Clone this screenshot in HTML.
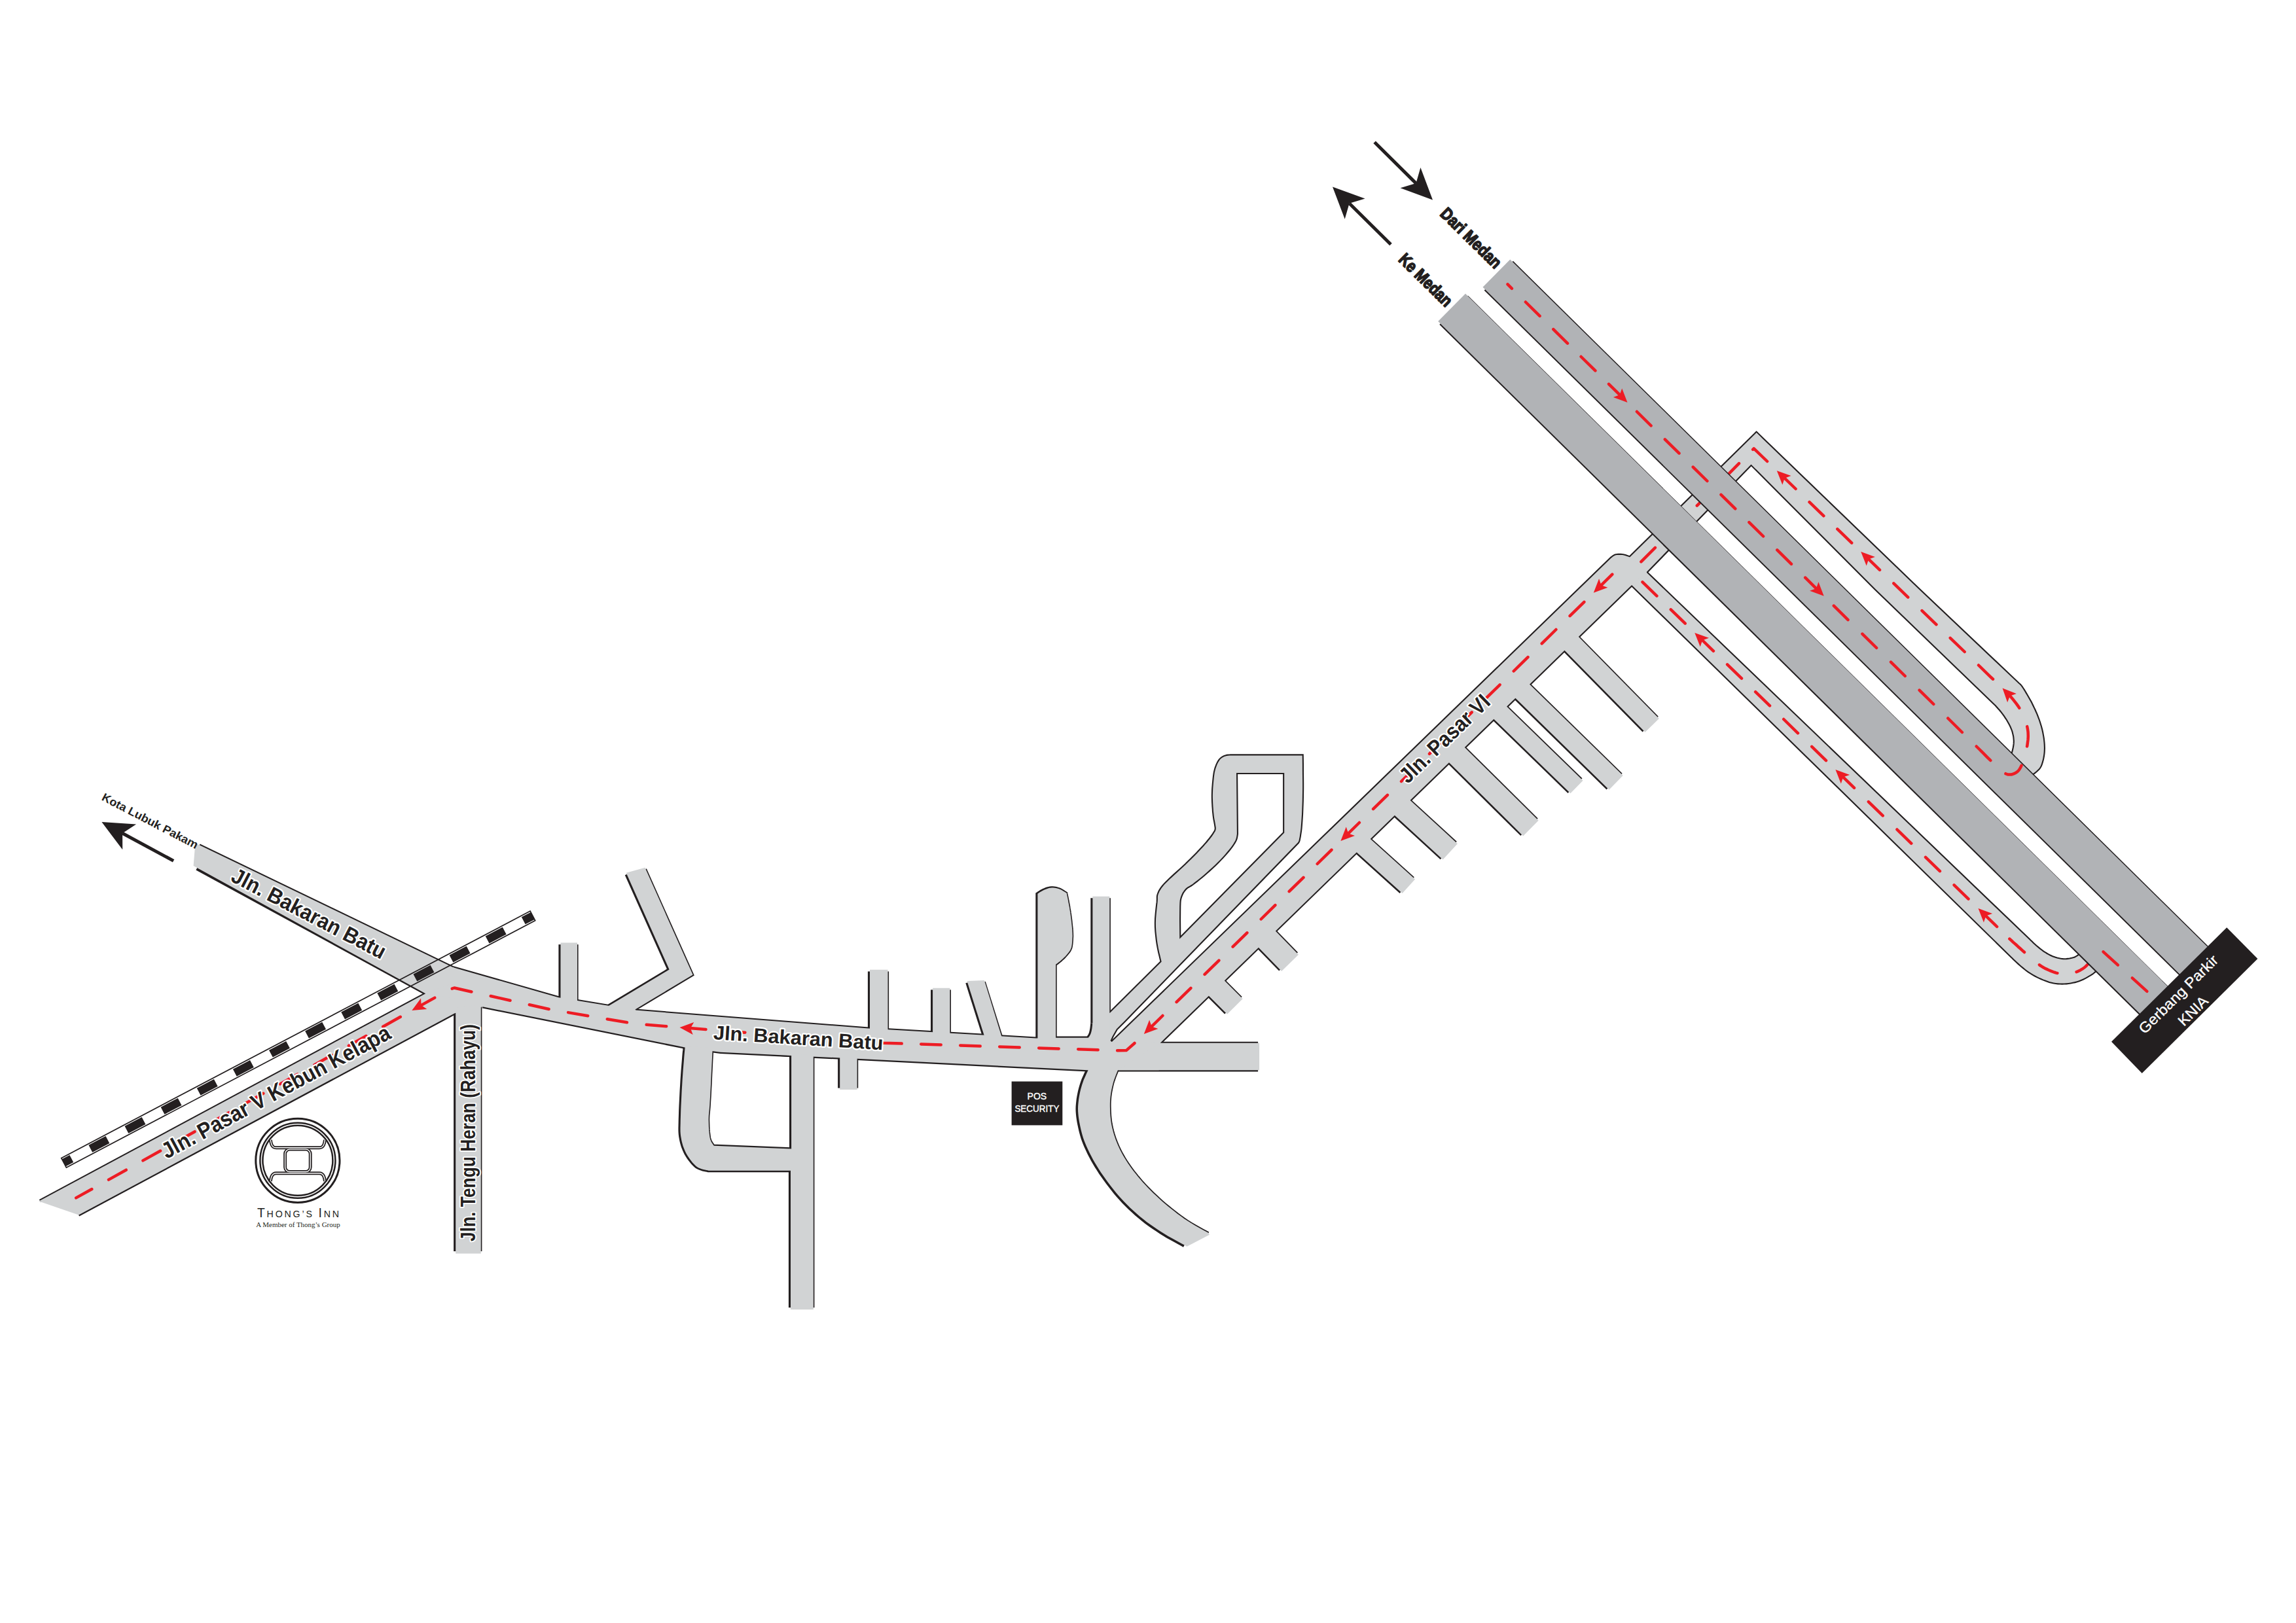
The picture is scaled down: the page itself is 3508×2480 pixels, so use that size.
<!DOCTYPE html>
<html><head><meta charset="utf-8"><title>Map</title>
<style>
html,body{margin:0;padding:0;background:#fff;}
body{width:3508px;height:2480px;overflow:hidden;font-family:"Liberation Sans",sans-serif;}
svg{display:block;}
text{font-family:"Liberation Sans",sans-serif;}
.serif{font-family:"Liberation Serif",serif;}
</style></head><body>
<svg xmlns="http://www.w3.org/2000/svg" width="3508" height="2480" viewBox="0 0 3508 2480">
<rect width="3508" height="2480" fill="#fff"/>
<g fill="none" stroke="#231f20" stroke-linecap="butt" stroke-miterlimit="10">
<path d="M2682.3,660.0 L2931.3,900.0 L3083.5,1044.1 L3083.9,1044.6 L3084.6,1045.1 L3085.4,1045.7 L3086.2,1046.6 L3087.2,1047.6 L3088.3,1048.9 L3089.4,1050.6 L3090.7,1052.6 L3092.1,1054.7 L3093.5,1057.1 L3094.9,1059.4 L3096.3,1061.8 L3097.6,1064.0 L3098.9,1066.3 L3100.3,1068.7 L3101.6,1071.1 L3103.0,1073.6 L3104.3,1076.2 L3105.6,1078.9 L3107.0,1081.8 L3108.4,1084.7 L3109.7,1087.7 L3111.1,1090.7 L3112.3,1093.8 L3113.5,1096.9 L3114.7,1100.1 L3115.8,1103.3 L3116.8,1106.6 L3117.8,1109.8 L3118.7,1113.0 L3119.5,1116.3 L3120.2,1119.5 L3120.8,1122.8 L3121.4,1126.1 L3121.9,1129.2 L3122.2,1132.2 L3122.5,1135.1 L3122.7,1137.9 L3122.8,1140.6 L3122.9,1143.2 L3122.8,1145.7 L3122.7,1148.3 L3122.5,1150.8 L3122.2,1153.3 L3121.8,1155.8 L3121.4,1158.2 L3120.9,1160.5 L3120.3,1162.7 L3119.7,1164.8 L3119.1,1166.7 L3118.5,1168.6 L3117.7,1170.4 L3116.7,1172.2 L3115.5,1173.9 L3114.0,1175.6 L3112.2,1177.3 L3110.3,1179.0 L3108.3,1180.6 L3106.2,1182.1 L3104.3,1183.5 L3102.3,1184.8 L3100.1,1186.1 L3098.0,1187.3 L3096.0,1188.4 L3094.3,1189.3 L3093.1,1189.9" stroke-width="4.2"/>
<path d="M2675.6,709.6 L2865.5,900.0 L3049.8,1077.8 L3050.9,1079.0 L3052.3,1080.6 L3054.0,1082.5 L3055.9,1084.6 L3057.7,1086.8 L3059.4,1089.0 L3061.1,1091.2 L3062.8,1093.6 L3064.4,1096.0 L3066.1,1098.5 L3067.6,1101.0 L3069.0,1103.4 L3070.3,1105.8 L3071.6,1108.2 L3072.7,1110.6 L3073.7,1113.0 L3074.7,1115.4 L3075.5,1117.8 L3076.1,1120.2 L3076.7,1122.7 L3077.2,1125.1 L3077.5,1127.6 L3077.7,1129.9 L3077.9,1132.2 L3077.8,1134.5 L3077.7,1136.7 L3077.4,1138.9 L3077.1,1141.0 L3076.7,1143.1 L3076.3,1145.1 L3075.8,1147.0 L3075.3,1148.8 L3074.8,1150.5 L3074.2,1152.2 L3073.6,1153.9 L3073.0,1155.5 L3072.4,1157.1 L3071.6,1158.9 L3070.8,1160.5 L3070.1,1162.1 L3069.5,1163.3 L3069.0,1164.3" stroke-width="4.2"/>
<path d="M2684.9,660.0 L2490.1,851.5" stroke-width="4.2"/>
<path d="M2675.6,709.6 L2515.4,874.5" stroke-width="4.2"/>
<path d="M2515.4,874.5 L3101.0,1436.6 L3102.2,1437.7 L3103.9,1439.3 L3105.8,1441.2 L3108.0,1443.2 L3110.2,1445.2 L3112.2,1447.0 L3114.3,1448.7 L3116.4,1450.4 L3118.6,1452.1 L3120.7,1453.7 L3122.9,1455.2 L3125.1,1456.6 L3127.2,1457.9 L3129.3,1459.1 L3131.4,1460.2 L3133.5,1461.2 L3135.7,1462.2 L3137.9,1463.0 L3140.2,1463.8 L3142.6,1464.5 L3145.0,1465.1 L3147.4,1465.6 L3149.9,1466.0 L3152.3,1466.2 L3154.8,1466.3 L3157.3,1466.2 L3159.8,1465.9 L3162.3,1465.6 L3164.6,1465.1 L3166.7,1464.6 L3168.6,1464.0 L3170.3,1463.4 L3171.8,1462.6 L3173.3,1461.8 L3174.8,1460.8 L3176.3,1459.8 L3178.0,1458.6 L3179.9,1457.1 L3181.7,1455.5 L3183.4,1454.0 L3184.9,1452.7 L3185.9,1451.8" stroke-width="4.2"/>
<path d="M2492.1,892.9 L3073.8,1462.2 L3075.2,1463.5 L3077.1,1465.4 L3079.3,1467.5 L3081.7,1469.8 L3084.2,1472.1 L3086.6,1474.2 L3088.9,1476.2 L3091.2,1478.1 L3093.5,1480.0 L3095.9,1481.9 L3098.4,1483.7 L3101.0,1485.5 L3103.8,1487.2 L3106.6,1488.9 L3109.5,1490.6 L3112.5,1492.2 L3115.6,1493.7 L3118.7,1495.1 L3121.8,1496.4 L3124.9,1497.6 L3128.2,1498.8 L3131.4,1499.9 L3134.7,1500.8 L3137.9,1501.5 L3141.1,1502.0 L3144.3,1502.3 L3147.5,1502.5 L3150.7,1502.6 L3153.9,1502.5 L3157.1,1502.3 L3160.3,1501.9 L3163.6,1501.4 L3166.9,1500.8 L3170.2,1500.1 L3173.3,1499.2 L3176.3,1498.3 L3179.3,1497.1 L3182.2,1495.8 L3185.0,1494.4 L3187.7,1492.9 L3190.2,1491.5 L3192.3,1490.3 L3194.1,1489.2 L3195.6,1488.3 L3196.8,1487.5 L3197.9,1486.7 L3199.0,1485.7 L3200.4,1484.6 L3202.0,1483.3 L3203.8,1481.6 L3205.7,1479.9 L3207.4,1478.2 L3208.9,1476.8 L3210.0,1475.8" stroke-width="4.2"/>
<path d="M2490.1,851.5 L2489.0,851.1 L2487.6,850.6 L2485.8,849.9 L2483.9,849.3 L2482.0,848.7 L2480.1,848.3 L2478.3,848.1 L2476.3,847.9 L2474.3,847.9 L2472.3,847.9 L2470.5,848.1 L2468.9,848.3 L2467.4,848.8 L2466.0,849.5 L2464.8,850.3 L2463.7,851.1 L2462.8,851.9 L2462.1,852.3 L1698.6,1592.3" stroke-width="4.2"/>
<path d="M1772.7,1593.7 L2493.1,894.1" stroke-width="4.2"/>
<path d="M2391.2,973.3 L2522.0,1106.3" stroke-width="34.0" stroke-linejoin="miter" transform="translate(-0.30,0.30)"/>
<path d="M2316.3,1046.5 L2466.9,1193.8" stroke-width="34.5" stroke-linejoin="miter" transform="translate(-0.30,0.30)"/>
<path d="M2282.2,1079.4 L2406.8,1200.4" stroke-width="31.6" stroke-linejoin="miter" transform="translate(-0.30,0.30)"/>
<path d="M2216.2,1144.0 L2336.8,1263.5" stroke-width="37.5" stroke-linejoin="miter" transform="translate(-0.30,0.30)"/>
<path d="M2132.4,1224.9 L2213.5,1299.2" stroke-width="37.2" stroke-linejoin="miter" transform="translate(-0.30,0.30)"/>
<path d="M2072.7,1282.6 L2150.0,1352.3" stroke-width="33.3" stroke-linejoin="miter" transform="translate(-0.30,0.30)"/>
<path d="M1927.5,1426.6 L1968.9,1469.1" stroke-width="40.3" stroke-linejoin="miter" transform="translate(-0.30,0.30)"/>
<path d="M1850.3,1501.5 L1884.7,1535.9" stroke-width="37.6" stroke-linejoin="miter" transform="translate(-0.30,0.30)"/>
<path d="M1695.9,1547.8 L1774.7,1469.5 L1773.8,1465.9 L1772.6,1460.8 L1771.1,1454.8 L1769.8,1448.4 L1768.7,1442.3 L1767.8,1436.2 L1767.1,1429.8 L1766.4,1423.3 L1766.0,1416.7 L1765.9,1410.2 L1766.1,1403.5 L1766.7,1396.4 L1767.4,1389.5 L1768.1,1383.3 L1768.7,1378.2 L1768.9,1374.5 L1768.9,1372.1 L1768.9,1370.3 L1769.1,1368.6 L1769.7,1366.6 L1770.6,1364.2 L1771.7,1361.8 L1773.1,1359.4 L1774.7,1356.9 L1776.7,1354.4 L1778.9,1351.8 L1781.4,1349.2 L1784.2,1346.5 L1787.2,1343.6 L1790.6,1340.4 L1794.3,1336.9 L1798.5,1333.2 L1802.8,1329.3 L1807.2,1325.3 L1811.5,1321.3 L1815.8,1317.1 L1820.2,1312.8 L1824.5,1308.4 L1828.7,1304.2 L1832.4,1300.3 L1835.7,1296.8 L1838.8,1293.4 L1841.5,1290.3 L1844.1,1287.4 L1846.3,1284.7 L1848.4,1282.2 L1850.1,1279.9 L1851.7,1277.9 L1853.0,1276.0 L1854.2,1274.2 L1855.2,1272.6 L1856.1,1271.3 L1856.8,1270.0 L1857.3,1268.7 L1857.7,1267.2 L1857.8,1265.7 L1857.7,1264.1 L1857.4,1262.4 L1857.1,1260.5 L1856.8,1258.5 L1856.4,1256.4 L1856.0,1254.2 L1855.5,1251.8 L1855.1,1249.2 L1854.7,1246.3 L1854.4,1243.2 L1854.0,1239.7 L1853.8,1236.1 L1853.5,1232.5 L1853.3,1228.9 L1853.1,1225.4 L1853.0,1222.0 L1852.9,1218.5 L1852.9,1215.0 L1853.0,1211.5 L1853.1,1208.0 L1853.3,1204.4 L1853.6,1200.8 L1853.9,1197.3 L1854.2,1194.1 L1854.5,1191.0 L1854.8,1188.1 L1855.1,1185.4 L1855.5,1182.7 L1855.9,1180.1 L1856.5,1177.7 L1857.1,1175.3 L1857.8,1173.0 L1858.6,1170.9 L1859.4,1168.8 L1860.3,1166.8 L1861.2,1165.0 L1862.3,1163.2 L1863.4,1161.5 L1864.6,1160.1 L1866.0,1158.8 L1867.5,1157.8 L1869.1,1156.8 L1870.8,1156.0 L1872.5,1155.4 L1874.3,1154.9 L1876.3,1154.7 L1878.3,1154.5 L1880.0,1154.4 L1881.2,1154.4 L1989.7,1154.4 L1989.8,1160.0 L1989.9,1167.9 L1989.9,1177.3 L1990.0,1187.1 L1990.1,1196.5 L1990.1,1204.5 L1990.0,1211.3 L1989.9,1217.6 L1989.8,1223.5 L1989.6,1229.0 L1989.4,1234.2 L1989.2,1239.4 L1989.0,1244.3 L1988.7,1249.1 L1988.4,1253.5 L1988.1,1257.8 L1987.8,1261.8 L1987.5,1265.5 L1987.1,1269.1 L1986.6,1272.4 L1986.1,1275.6 L1985.7,1278.4 L1985.2,1280.9 L1984.8,1282.9 L1984.5,1284.5 L1984.1,1285.5 L1983.8,1286.2 L1983.5,1286.6 L1983.3,1287.0 L1983.1,1287.3 L1718.3,1560.0 L1706.0,1572.3 L1699.6,1583.4 L1696.4,1590.6" stroke-width="4.2"/>
<path d="M1889.0,1181.0 L1962.2,1181.0 L1962.2,1272.5 L1802.2,1434.8 L1802.2,1427.5 L1802.1,1416.8 L1802.0,1404.7 L1802.1,1393.4 L1802.2,1384.8 L1802.4,1379.4 L1802.7,1375.8 L1803.2,1373.4 L1803.7,1371.5 L1804.5,1369.2 L1805.6,1366.6 L1806.8,1364.1 L1808.2,1361.9 L1809.8,1359.8 L1811.5,1357.8 L1813.3,1356.3 L1815.1,1355.1 L1817.1,1354.0 L1819.4,1352.6 L1822.0,1350.9 L1824.9,1348.6 L1828.3,1346.0 L1831.8,1343.2 L1835.6,1340.2 L1839.4,1336.9 L1843.4,1333.4 L1847.7,1329.6 L1852.0,1325.7 L1856.3,1321.7 L1860.3,1317.8 L1864.1,1313.9 L1867.9,1309.9 L1871.5,1305.9 L1874.8,1302.1 L1877.7,1298.6 L1880.2,1295.4 L1882.4,1292.5 L1884.3,1289.7 L1885.9,1287.1 L1887.3,1284.7 L1888.3,1282.2 L1889.0,1279.7 L1889.4,1277.5 L1889.7,1275.6 L1889.9,1274.2 L1889.0,1181.0" stroke-width="4.2"/>
<path d="M692.3,1478.2 L853.5,1524.2 L970.5,1543.6 L1327.0,1571.6 L1583.2,1586.4 L1667.4,1586.0" stroke-width="4.3" transform="translate(0.00,0.15)"/>
<path d="M737.3,1538.3 L1046.6,1600.5 L1100.7,1607.7 L1310.1,1617.7 L1662.5,1635.3 L1708.6,1635.3" stroke-width="4.3" transform="translate(0.00,0.15)"/>
<path d="M1772.7,1593.7 L1922.1,1593.7" stroke-width="4.3" transform="translate(0.00,0.15)"/>
<path d="M1708.6,1635.3 L1922.1,1635.3" stroke-width="4.3" transform="translate(0.00,0.15)"/>
<path d="M1711.4,1626.5 L1711.1,1627.2 L1710.8,1628.0 L1710.4,1629.0 L1709.9,1630.3 L1709.2,1631.9 L1708.4,1633.9 L1707.4,1636.5 L1706.2,1639.5 L1704.8,1642.9 L1703.5,1646.4 L1702.2,1650.1 L1701.0,1653.7 L1700.1,1657.2 L1699.2,1660.9 L1698.4,1664.6 L1697.7,1668.3 L1697.1,1672.1 L1696.6,1675.8 L1696.3,1679.5 L1696.0,1683.2 L1695.9,1686.9 L1695.9,1690.6 L1696.0,1694.3 L1696.1,1698.0 L1696.3,1701.7 L1696.5,1705.3 L1696.9,1709.0 L1697.3,1712.6 L1697.9,1716.4 L1698.6,1720.2 L1699.5,1724.2 L1700.5,1728.2 L1701.7,1732.4 L1703.0,1736.5 L1704.4,1740.7 L1706.0,1744.8 L1707.7,1749.0 L1709.5,1753.1 L1711.5,1757.2 L1713.6,1761.3 L1715.9,1765.4 L1718.3,1769.5 L1720.8,1773.6 L1723.5,1777.7 L1726.3,1781.8 L1729.3,1785.9 L1732.3,1790.0 L1735.6,1794.1 L1738.9,1798.2 L1742.4,1802.3 L1746.0,1806.5 L1749.8,1810.6 L1753.7,1814.7 L1757.7,1818.8 L1761.9,1822.9 L1766.3,1827.1 L1770.8,1831.3 L1775.4,1835.4 L1780.1,1839.5 L1784.8,1843.4 L1789.6,1847.3 L1794.4,1851.1 L1799.3,1854.9 L1804.3,1858.6 L1809.3,1862.2 L1814.4,1865.6 L1820.0,1869.1 L1826.1,1872.7 L1832.3,1876.2 L1838.1,1879.4 L1842.9,1882.1 L1846.5,1884.1" stroke-width="3.4"/>
<path d="M1666.1,1626.5 L1665.8,1627.2 L1665.5,1628.0 L1665.1,1629.0 L1664.6,1630.3 L1664.0,1631.9 L1663.1,1633.9 L1662.0,1636.5 L1660.5,1639.5 L1659.0,1642.9 L1657.4,1646.4 L1655.8,1650.1 L1654.5,1653.7 L1653.3,1657.2 L1652.2,1660.9 L1651.2,1664.6 L1650.3,1668.3 L1649.5,1672.1 L1648.8,1675.8 L1648.2,1679.5 L1647.8,1683.1 L1647.4,1686.8 L1647.1,1690.4 L1647.0,1694.2 L1647.1,1698.0 L1647.4,1702.0 L1647.8,1706.0 L1648.4,1710.2 L1649.1,1714.4 L1649.9,1718.5 L1650.8,1722.7 L1651.7,1726.7 L1652.7,1730.7 L1653.8,1734.7 L1655.0,1738.7 L1656.5,1742.9 L1658.2,1747.3 L1660.2,1752.0 L1662.4,1756.8 L1664.8,1761.8 L1667.4,1766.8 L1670.1,1771.9 L1673.0,1776.9 L1675.9,1781.8 L1679.0,1786.7 L1682.2,1791.7 L1685.6,1796.6 L1689.1,1801.5 L1692.7,1806.5 L1696.5,1811.4 L1700.4,1816.4 L1704.4,1821.4 L1708.6,1826.4 L1712.9,1831.2 L1717.3,1836.0 L1722.0,1840.8 L1726.7,1845.4 L1731.7,1850.0 L1736.7,1854.6 L1741.8,1858.9 L1746.9,1863.1 L1752.1,1867.2 L1757.5,1871.1 L1762.9,1874.8 L1768.3,1878.5 L1773.7,1882.0 L1778.9,1885.3 L1784.5,1888.7 L1790.5,1892.1 L1796.4,1895.3 L1801.8,1898.3 L1806.4,1900.8 L1809.8,1902.6" stroke-width="6.4" transform="translate(-0.30,0.20)"/>
<path d="M304.7,1291.2 L692.3,1478.2" stroke-width="4.3" transform="translate(0.00,0.15)"/>
<path d="M300.4,1327.4 L650.2,1518.2" stroke-width="4.3" transform="translate(0.00,0.15)"/>
<path d="M650.2,1518.2 L60.9,1834.8" stroke-width="4.3" transform="translate(0.00,0.15)"/>
<path d="M120.2,1856.5 L695.3,1547.9" stroke-width="4.3" transform="translate(0.00,0.15)"/>
<path d="M696.2,1546.0 L696.2,1912.0" stroke-width="4.7" transform="translate(-0.75,0.10)"/>
<path d="M734.8,1912.0 L734.8,1538.0" stroke-width="4.7" transform="translate(-0.75,0.10)"/>
<path d="M856.5,1532.2 L856.5,1443.1" stroke-width="4.7" transform="translate(-0.75,0.10)"/>
<path d="M882.0,1443.1 L882.0,1540.2" stroke-width="4.7" transform="translate(-0.75,0.10)"/>
<path d="M1329.0,1578.4 L1329.0,1484.3" stroke-width="4.7" transform="translate(-0.75,0.10)"/>
<path d="M1356.5,1484.3 L1356.5,1580.4" stroke-width="4.7" transform="translate(-0.75,0.10)"/>
<path d="M1425.1,1584.4 L1425.1,1512.3" stroke-width="4.7" transform="translate(-0.75,0.10)"/>
<path d="M1451.4,1512.3 L1451.4,1584.4" stroke-width="4.7" transform="translate(-0.75,0.10)"/>
<path d="M1669.4,1563.4 L1669.4,1372.2" stroke-width="4.7" transform="translate(-0.75,0.10)"/>
<path d="M1695.3,1372.2 L1695.3,1547.8" stroke-width="4.7" transform="translate(-0.75,0.10)"/>
<path d="M1283.2,1608.5 L1283.2,1662.5" stroke-width="4.7" transform="translate(-0.75,0.10)"/>
<path d="M1309.6,1662.5 L1309.6,1609.7" stroke-width="4.7" transform="translate(-0.75,0.10)"/>
<path d="M1506.3,1590.4 L1478.3,1501.5" stroke-width="4.7" transform="translate(-0.75,0.10)"/>
<path d="M1504.3,1500.3 L1532.4,1590.4" stroke-width="4.7" transform="translate(-0.75,0.10)"/>
<path d="M924.4,1546.4 L929.2,1537.6 L1022.6,1481.5 L957.7,1336.1" stroke-width="4.7" transform="translate(-0.75,0.10)"/>
<path d="M986.5,1328.1 L1058.6,1489.5 L970.5,1542.4 L976.5,1550.4" stroke-width="4.7" transform="translate(-0.75,0.10)"/>
<path d="M1585.4,1591.3 L1585.4,1365.7 L1586.4,1365.1 L1587.8,1364.1 L1589.4,1363.1 L1591.2,1361.9 L1593.0,1360.9 L1594.8,1360.0 L1596.7,1359.2 L1598.7,1358.4 L1600.8,1357.7 L1602.9,1357.1 L1605.0,1356.7 L1607.0,1356.5 L1609.1,1356.5 L1611.2,1356.7 L1613.2,1357.0 L1615.3,1357.5 L1617.3,1358.1 L1619.2,1358.7 L1621.2,1359.6 L1623.2,1360.7 L1625.2,1361.9 L1627.0,1363.1 L1628.6,1364.1 L1629.7,1364.8 L1629.9,1366.0 L1630.2,1367.5 L1630.6,1369.3 L1631.0,1371.3 L1631.4,1373.3 L1631.8,1375.3 L1632.1,1377.2 L1632.5,1379.2 L1632.9,1381.2 L1633.3,1383.2 L1633.7,1385.3 L1634.0,1387.5 L1634.4,1389.7 L1634.8,1392.1 L1635.1,1394.5 L1635.5,1396.8 L1635.8,1399.2 L1636.1,1401.4 L1636.4,1403.6 L1636.7,1405.7 L1636.9,1407.7 L1637.1,1409.8 L1637.3,1411.7 L1637.5,1413.6 L1637.7,1415.5 L1637.9,1417.2 L1638.0,1419.0 L1638.2,1420.7 L1638.3,1422.4 L1638.4,1424.1 L1638.5,1425.8 L1638.5,1427.4 L1638.6,1429.1 L1638.6,1430.8 L1638.5,1432.6 L1638.4,1434.5 L1638.3,1436.7 L1638.1,1439.1 L1637.9,1441.6 L1637.6,1444.0 L1637.2,1446.4 L1636.7,1448.5 L1635.9,1450.3 L1635.1,1452.0 L1634.1,1453.5 L1633.0,1455.0 L1631.8,1456.5 L1630.6,1458.0 L1629.1,1459.7 L1627.6,1461.4 L1625.9,1463.1 L1624.2,1464.7 L1622.5,1466.2 L1621.0,1467.6 L1619.5,1468.9 L1617.9,1470.1 L1616.5,1471.3 L1615.1,1472.3 L1614.0,1473.1 L1613.1,1473.7 L1613.1,1585.7 L1662.8,1585.7 L1663.2,1585.1 L1663.9,1584.2 L1664.6,1583.2 L1665.3,1582.1 L1665.9,1580.9 L1666.4,1579.7 L1666.9,1578.4 L1667.3,1577.0 L1667.7,1575.6 L1668.0,1573.9 L1668.4,1571.9 L1668.7,1569.5 L1669.0,1567.0 L1669.2,1564.9 L1669.4,1563.4" stroke-width="4.7" transform="translate(-0.75,0.10)"/>
<path d="M1046.6,1598.5 L1046.6,1600.5 L1046.3,1604.3 L1045.8,1609.2 L1045.3,1615.1 L1044.8,1621.7 L1044.2,1628.8 L1043.6,1636.1 L1043.1,1643.4 L1042.6,1650.5 L1042.2,1657.8 L1041.7,1665.6 L1041.3,1673.7 L1040.9,1681.9 L1040.5,1690.0 L1040.2,1697.6 L1040.0,1704.6 L1039.8,1710.6 L1039.7,1715.7 L1039.6,1720.0 L1039.5,1723.6 L1039.5,1726.9 L1039.6,1729.8 L1039.8,1732.7 L1040.1,1735.6 L1040.6,1738.6 L1041.2,1741.9 L1041.9,1745.0 L1042.7,1748.1 L1043.6,1751.2 L1044.7,1754.1 L1045.9,1757.0 L1047.2,1759.9 L1048.6,1762.7 L1050.2,1765.5 L1052.0,1768.3 L1053.9,1771.1 L1056.0,1773.8 L1058.1,1776.4 L1060.3,1778.8 L1062.5,1780.9 L1064.6,1782.7 L1066.9,1784.2 L1069.4,1785.3 L1072.0,1786.2 L1074.6,1787.0 L1077.1,1787.5 L1079.4,1788.0 L1081.2,1788.3 L1082.6,1788.7 L1208.0,1788.7 L1208.0,1998.0" stroke-width="4.7" transform="translate(-0.75,0.10)"/>
<path d="M1242.8,1998.0 L1242.8,1612.5" stroke-width="4.7" transform="translate(-0.75,0.10)"/>
<path d="M1088.6,1604.8 L1209.1,1612.5 L1209.1,1755.5 L1090.6,1750.7 L1090.2,1749.8 L1089.5,1748.9 L1088.7,1747.7 L1087.8,1746.4 L1086.9,1744.9 L1086.0,1743.1 L1085.2,1741.0 L1084.6,1738.6 L1084.2,1735.9 L1083.8,1732.8 L1083.4,1729.3 L1083.1,1725.6 L1082.9,1721.8 L1082.8,1718.0 L1082.7,1714.2 L1082.6,1710.6 L1082.7,1707.4 L1082.8,1704.8 L1083.0,1702.3 L1083.3,1699.7 L1083.6,1696.7 L1083.9,1693.1 L1084.3,1688.5 L1084.6,1682.6 L1085.1,1674.7 L1085.6,1664.8 L1086.2,1653.6 L1086.7,1641.9 L1087.3,1630.5 L1087.8,1619.9 L1088.3,1611.1 L1088.6,1604.8" stroke-width="4.7" transform="translate(-0.75,0.10)"/>
</g>
<g stroke-linecap="butt" stroke-miterlimit="10">
<path d="M2683.6,661.3 L2931.3,900.0 L3083.5,1044.1 L3083.9,1044.6 L3084.6,1045.1 L3085.4,1045.7 L3086.2,1046.6 L3087.2,1047.6 L3088.3,1048.9 L3089.4,1050.6 L3090.7,1052.6 L3092.1,1054.7 L3093.5,1057.1 L3094.9,1059.4 L3096.3,1061.8 L3097.6,1064.0 L3098.9,1066.3 L3100.3,1068.7 L3101.6,1071.1 L3103.0,1073.6 L3104.3,1076.2 L3105.6,1078.9 L3107.0,1081.8 L3108.4,1084.7 L3109.7,1087.7 L3111.1,1090.7 L3112.3,1093.8 L3113.5,1096.9 L3114.7,1100.1 L3115.8,1103.3 L3116.8,1106.6 L3117.8,1109.8 L3118.7,1113.0 L3119.5,1116.3 L3120.2,1119.5 L3120.8,1122.8 L3121.4,1126.1 L3121.9,1129.2 L3122.2,1132.2 L3122.5,1135.1 L3122.7,1137.9 L3122.8,1140.6 L3122.9,1143.2 L3122.8,1145.7 L3122.7,1148.3 L3122.5,1150.8 L3122.2,1153.3 L3121.8,1155.8 L3121.4,1158.2 L3120.9,1160.5 L3120.3,1162.7 L3119.7,1164.8 L3119.1,1166.7 L3118.5,1168.6 L3117.7,1170.4 L3116.7,1172.2 L3115.5,1173.9 L3114.0,1175.6 L3112.2,1177.3 L3110.3,1179.0 L3108.3,1180.6 L3106.2,1182.1 L3104.3,1183.5 L3102.3,1184.8 L3100.1,1186.1 L3098.0,1187.3 L3096.0,1188.4 L3094.3,1189.3 L3093.1,1189.9 L3069.0,1164.3 L3069.5,1163.3 L3070.1,1162.1 L3070.8,1160.5 L3071.6,1158.9 L3072.4,1157.1 L3073.0,1155.5 L3073.6,1153.9 L3074.2,1152.2 L3074.8,1150.5 L3075.3,1148.8 L3075.8,1147.0 L3076.3,1145.1 L3076.7,1143.1 L3077.1,1141.0 L3077.4,1138.9 L3077.7,1136.7 L3077.8,1134.5 L3077.9,1132.2 L3077.7,1129.9 L3077.5,1127.6 L3077.2,1125.1 L3076.7,1122.7 L3076.1,1120.2 L3075.5,1117.8 L3074.7,1115.4 L3073.7,1113.0 L3072.7,1110.6 L3071.6,1108.2 L3070.3,1105.8 L3069.0,1103.4 L3067.6,1101.0 L3066.1,1098.5 L3064.4,1096.0 L3062.8,1093.6 L3061.1,1091.2 L3059.4,1089.0 L3057.7,1086.8 L3055.9,1084.6 L3054.0,1082.5 L3052.3,1080.6 L3050.9,1079.0 L3049.8,1077.8 L2865.5,900.0 L2675.6,709.6 Z" fill="#d1d3d4" fill-rule="evenodd"/>
<path d="M2683.6,661.3 L2472.3,869.1 L2497.9,892.4 L2675.6,709.6 L2682.8,716.7 L2690.7,668.3 Z" fill="#d1d3d4" fill-rule="evenodd"/>
<path d="M2497.3,857.2 L2515.4,874.5 L3101.0,1436.6 L3102.2,1437.7 L3103.9,1439.3 L3105.8,1441.2 L3108.0,1443.2 L3110.2,1445.2 L3112.2,1447.0 L3114.3,1448.7 L3116.4,1450.4 L3118.6,1452.1 L3120.7,1453.7 L3122.9,1455.2 L3125.1,1456.6 L3127.2,1457.9 L3129.3,1459.1 L3131.4,1460.2 L3133.5,1461.2 L3135.7,1462.2 L3137.9,1463.0 L3140.2,1463.8 L3142.6,1464.5 L3145.0,1465.1 L3147.4,1465.6 L3149.9,1466.0 L3152.3,1466.2 L3154.8,1466.3 L3157.3,1466.2 L3159.8,1465.9 L3162.3,1465.6 L3164.6,1465.1 L3166.7,1464.6 L3168.6,1464.0 L3170.3,1463.4 L3171.8,1462.6 L3173.3,1461.8 L3174.8,1460.8 L3176.3,1459.8 L3178.0,1458.6 L3179.9,1457.1 L3181.7,1455.5 L3183.4,1454.0 L3184.9,1452.7 L3185.9,1451.8 L3210.0,1475.8 L3208.9,1476.8 L3207.4,1478.2 L3205.7,1479.9 L3203.8,1481.6 L3202.0,1483.3 L3200.4,1484.6 L3199.0,1485.7 L3197.9,1486.7 L3196.8,1487.5 L3195.6,1488.3 L3194.1,1489.2 L3192.3,1490.3 L3190.2,1491.5 L3187.7,1492.9 L3185.0,1494.4 L3182.2,1495.8 L3179.3,1497.1 L3176.3,1498.3 L3173.3,1499.2 L3170.2,1500.1 L3166.9,1500.8 L3163.6,1501.4 L3160.3,1501.9 L3157.1,1502.3 L3153.9,1502.5 L3150.7,1502.6 L3147.5,1502.5 L3144.3,1502.3 L3141.1,1502.0 L3137.9,1501.5 L3134.7,1500.8 L3131.4,1499.9 L3128.2,1498.8 L3124.9,1497.6 L3121.8,1496.4 L3118.7,1495.1 L3115.6,1493.7 L3112.5,1492.2 L3109.5,1490.6 L3106.6,1488.9 L3103.8,1487.2 L3101.0,1485.5 L3098.4,1483.7 L3095.9,1481.9 L3093.5,1480.0 L3091.2,1478.1 L3088.9,1476.2 L3086.6,1474.2 L3084.2,1472.1 L3081.7,1469.8 L3079.3,1467.5 L3077.1,1465.4 L3075.2,1463.5 L3073.8,1462.2 L2492.1,892.9 L2474.3,875.4 Z" fill="#d1d3d4" fill-rule="evenodd"/>
<path d="M2490.1,851.5 L2489.0,851.1 L2487.6,850.6 L2485.8,849.9 L2483.9,849.3 L2482.0,848.7 L2480.1,848.3 L2478.3,848.1 L2476.3,847.9 L2474.3,847.9 L2472.3,847.9 L2470.5,848.1 L2468.9,848.3 L2467.4,848.8 L2466.0,849.5 L2464.8,850.3 L2463.7,851.1 L2462.8,851.9 L2462.1,852.3 L1698.6,1592.3 L1690.6,1610.5 L1750.7,1622.5 L1772.7,1593.7 L2493.1,894.1 L2516.2,874.4 Z" fill="#d1d3d4" fill-rule="evenodd"/>
<path d="M2391.2,973.3 L2524.2,1108.4" fill="none" stroke="#d1d3d4" stroke-width="29.8" stroke-linejoin="miter"/>
<path d="M2316.3,1046.5 L2469.1,1195.9" fill="none" stroke="#d1d3d4" stroke-width="30.3" stroke-linejoin="miter"/>
<path d="M2282.2,1079.4 L2409.0,1202.5" fill="none" stroke="#d1d3d4" stroke-width="27.4" stroke-linejoin="miter"/>
<path d="M2216.2,1144.0 L2338.9,1265.6" fill="none" stroke="#d1d3d4" stroke-width="33.3" stroke-linejoin="miter"/>
<path d="M2132.4,1224.9 L2215.7,1301.3" fill="none" stroke="#d1d3d4" stroke-width="33.0" stroke-linejoin="miter"/>
<path d="M2072.7,1282.6 L2152.3,1354.3" fill="none" stroke="#d1d3d4" stroke-width="29.1" stroke-linejoin="miter"/>
<path d="M1927.5,1426.6 L1971.0,1471.3" fill="none" stroke="#d1d3d4" stroke-width="36.1" stroke-linejoin="miter"/>
<path d="M1850.3,1501.5 L1886.8,1538.0" fill="none" stroke="#d1d3d4" stroke-width="33.4" stroke-linejoin="miter"/>
<path d="M1695.9,1547.8 L1774.7,1469.5 L1773.8,1465.9 L1772.6,1460.8 L1771.1,1454.8 L1769.8,1448.4 L1768.7,1442.3 L1767.8,1436.2 L1767.1,1429.8 L1766.4,1423.3 L1766.0,1416.7 L1765.9,1410.2 L1766.1,1403.5 L1766.7,1396.4 L1767.4,1389.5 L1768.1,1383.3 L1768.7,1378.2 L1768.9,1374.5 L1768.9,1372.1 L1768.9,1370.3 L1769.1,1368.6 L1769.7,1366.6 L1770.6,1364.2 L1771.7,1361.8 L1773.1,1359.4 L1774.7,1356.9 L1776.7,1354.4 L1778.9,1351.8 L1781.4,1349.2 L1784.2,1346.5 L1787.2,1343.6 L1790.6,1340.4 L1794.3,1336.9 L1798.5,1333.2 L1802.8,1329.3 L1807.2,1325.3 L1811.5,1321.3 L1815.8,1317.1 L1820.2,1312.8 L1824.5,1308.4 L1828.7,1304.2 L1832.4,1300.3 L1835.7,1296.8 L1838.8,1293.4 L1841.5,1290.3 L1844.1,1287.4 L1846.3,1284.7 L1848.4,1282.2 L1850.1,1279.9 L1851.7,1277.9 L1853.0,1276.0 L1854.2,1274.2 L1855.2,1272.6 L1856.1,1271.3 L1856.8,1270.0 L1857.3,1268.7 L1857.7,1267.2 L1857.8,1265.7 L1857.7,1264.1 L1857.4,1262.4 L1857.1,1260.5 L1856.8,1258.5 L1856.4,1256.4 L1856.0,1254.2 L1855.5,1251.8 L1855.1,1249.2 L1854.7,1246.3 L1854.4,1243.2 L1854.0,1239.7 L1853.8,1236.1 L1853.5,1232.5 L1853.3,1228.9 L1853.1,1225.4 L1853.0,1222.0 L1852.9,1218.5 L1852.9,1215.0 L1853.0,1211.5 L1853.1,1208.0 L1853.3,1204.4 L1853.6,1200.8 L1853.9,1197.3 L1854.2,1194.1 L1854.5,1191.0 L1854.8,1188.1 L1855.1,1185.4 L1855.5,1182.7 L1855.9,1180.1 L1856.5,1177.7 L1857.1,1175.3 L1857.8,1173.0 L1858.6,1170.9 L1859.4,1168.8 L1860.3,1166.8 L1861.2,1165.0 L1862.3,1163.2 L1863.4,1161.5 L1864.6,1160.1 L1866.0,1158.8 L1867.5,1157.8 L1869.1,1156.8 L1870.8,1156.0 L1872.5,1155.4 L1874.3,1154.9 L1876.3,1154.7 L1878.3,1154.5 L1880.0,1154.4 L1881.2,1154.4 L1989.7,1154.4 L1989.8,1160.0 L1989.9,1167.9 L1989.9,1177.3 L1990.0,1187.1 L1990.1,1196.5 L1990.1,1204.5 L1990.0,1211.3 L1989.9,1217.6 L1989.8,1223.5 L1989.6,1229.0 L1989.4,1234.2 L1989.2,1239.4 L1989.0,1244.3 L1988.7,1249.1 L1988.4,1253.5 L1988.1,1257.8 L1987.8,1261.8 L1987.5,1265.5 L1987.1,1269.1 L1986.6,1272.4 L1986.1,1275.6 L1985.7,1278.4 L1985.2,1280.9 L1984.8,1282.9 L1984.5,1284.5 L1984.1,1285.5 L1983.8,1286.2 L1983.5,1286.6 L1983.3,1287.0 L1983.1,1287.3 L1718.3,1560.0 L1706.0,1572.3 L1699.6,1583.4 L1696.4,1590.6 L1710.6,1602.5 L1690.6,1602.5 L1688.9,1601.8 L1688.9,1547.8 Z M1889.0,1181.0 L1962.2,1181.0 L1962.2,1272.5 L1802.2,1434.8 L1802.2,1427.5 L1802.1,1416.8 L1802.0,1404.7 L1802.1,1393.4 L1802.2,1384.8 L1802.4,1379.4 L1802.7,1375.8 L1803.2,1373.4 L1803.7,1371.5 L1804.5,1369.2 L1805.6,1366.6 L1806.8,1364.1 L1808.2,1361.9 L1809.8,1359.8 L1811.5,1357.8 L1813.3,1356.3 L1815.1,1355.1 L1817.1,1354.0 L1819.4,1352.6 L1822.0,1350.9 L1824.9,1348.6 L1828.3,1346.0 L1831.8,1343.2 L1835.6,1340.2 L1839.4,1336.9 L1843.4,1333.4 L1847.7,1329.6 L1852.0,1325.7 L1856.3,1321.7 L1860.3,1317.8 L1864.1,1313.9 L1867.9,1309.9 L1871.5,1305.9 L1874.8,1302.1 L1877.7,1298.6 L1880.2,1295.4 L1882.4,1292.5 L1884.3,1289.7 L1885.9,1287.1 L1887.3,1284.7 L1888.3,1282.2 L1889.0,1279.7 L1889.4,1277.5 L1889.7,1275.6 L1889.9,1274.2 Z" fill="#d1d3d4" fill-rule="evenodd"/>
<path d="M692.3,1478.2 L853.5,1524.2 L970.5,1543.6 L1327.0,1571.6 L1583.2,1586.4 L1667.4,1586.0 L1696.9,1592.0 L1772.7,1593.7 L1770.7,1635.3 L1708.6,1635.3 L1662.5,1635.3 L1310.1,1617.7 L1100.7,1607.7 L1046.6,1600.5 L737.3,1538.3 L695.3,1547.9 L650.2,1518.2 Z" fill="#d1d3d4" fill-rule="evenodd"/>
<path d="M1772.7,1593.7 L1924.1,1593.7 L1924.1,1635.3 L1708.6,1635.3 Z" fill="#d1d3d4" fill-rule="evenodd"/>
<path d="M1666.1,1626.5 L1665.8,1627.2 L1665.5,1628.0 L1665.1,1629.0 L1664.6,1630.3 L1664.0,1631.9 L1663.1,1633.9 L1662.0,1636.5 L1660.5,1639.5 L1659.0,1642.9 L1657.4,1646.4 L1655.8,1650.1 L1654.5,1653.7 L1653.3,1657.2 L1652.2,1660.9 L1651.2,1664.6 L1650.3,1668.3 L1649.5,1672.1 L1648.8,1675.8 L1648.2,1679.5 L1647.8,1683.1 L1647.4,1686.8 L1647.1,1690.4 L1647.0,1694.2 L1647.1,1698.0 L1647.4,1702.0 L1647.8,1706.0 L1648.4,1710.2 L1649.1,1714.4 L1649.9,1718.5 L1650.8,1722.7 L1651.7,1726.7 L1652.7,1730.7 L1653.8,1734.7 L1655.0,1738.7 L1656.5,1742.9 L1658.2,1747.3 L1660.2,1752.0 L1662.4,1756.8 L1664.8,1761.8 L1667.4,1766.8 L1670.1,1771.9 L1673.0,1776.9 L1675.9,1781.8 L1679.0,1786.7 L1682.2,1791.7 L1685.6,1796.6 L1689.1,1801.5 L1692.7,1806.5 L1696.5,1811.4 L1700.4,1816.4 L1704.4,1821.4 L1708.6,1826.4 L1712.9,1831.2 L1717.3,1836.0 L1722.0,1840.8 L1726.7,1845.4 L1731.7,1850.0 L1736.7,1854.6 L1741.8,1858.9 L1746.9,1863.1 L1752.1,1867.2 L1757.5,1871.1 L1762.9,1874.8 L1768.3,1878.5 L1773.7,1882.0 L1778.9,1885.3 L1784.5,1888.7 L1790.5,1892.1 L1796.4,1895.3 L1801.8,1898.3 L1806.4,1900.8 L1809.8,1902.6 L1813.4,1904.8 L1847.9,1886.8 L1846.5,1884.1 L1842.9,1882.1 L1838.1,1879.4 L1832.3,1876.2 L1826.1,1872.7 L1820.0,1869.1 L1814.4,1865.6 L1809.3,1862.2 L1804.3,1858.6 L1799.3,1854.9 L1794.4,1851.1 L1789.6,1847.3 L1784.8,1843.4 L1780.1,1839.5 L1775.4,1835.4 L1770.8,1831.3 L1766.3,1827.1 L1761.9,1822.9 L1757.7,1818.8 L1753.7,1814.7 L1749.8,1810.6 L1746.0,1806.5 L1742.4,1802.3 L1738.9,1798.2 L1735.6,1794.1 L1732.3,1790.0 L1729.3,1785.9 L1726.3,1781.8 L1723.5,1777.7 L1720.8,1773.6 L1718.3,1769.5 L1715.9,1765.4 L1713.6,1761.3 L1711.5,1757.2 L1709.5,1753.1 L1707.7,1749.0 L1706.0,1744.8 L1704.4,1740.7 L1703.0,1736.5 L1701.7,1732.4 L1700.5,1728.2 L1699.5,1724.2 L1698.6,1720.2 L1697.9,1716.4 L1697.3,1712.6 L1696.9,1709.0 L1696.5,1705.3 L1696.3,1701.7 L1696.1,1698.0 L1696.0,1694.3 L1695.9,1690.6 L1695.9,1686.9 L1696.0,1683.2 L1696.3,1679.5 L1696.6,1675.8 L1697.1,1672.1 L1697.7,1668.3 L1698.4,1664.6 L1699.2,1660.9 L1700.1,1657.2 L1701.0,1653.7 L1702.2,1650.1 L1703.5,1646.4 L1704.8,1642.9 L1706.2,1639.5 L1707.4,1636.5 L1708.4,1633.9 L1709.2,1631.9 L1709.9,1630.3 L1710.4,1629.0 L1710.8,1628.0 L1711.1,1627.2 L1711.4,1626.5 Z" fill="#d1d3d4" fill-rule="evenodd"/>
<path d="M298.4,1288.2 L692.3,1478.2 L720.3,1490.2 L650.2,1518.2 L295.6,1323.0 Z" fill="#d1d3d4" fill-rule="evenodd"/>
<path d="M650.2,1518.2 L59.3,1835.6 L120.2,1856.5 L695.3,1547.9 L720.3,1530.2 Z" fill="#d1d3d4" fill-rule="evenodd"/>
<path d="M696.2,1540.0 L696.2,1915.5 L734.8,1915.5 L734.8,1535.0 Z" fill="#d1d3d4" fill-rule="evenodd"/>
<path d="M856.5,1540.2 L856.5,1440.6 L882.0,1440.6 L882.0,1540.2 Z" fill="#d1d3d4" fill-rule="evenodd"/>
<path d="M1329.0,1580.4 L1329.0,1481.8 L1356.5,1481.8 L1356.5,1580.4 Z" fill="#d1d3d4" fill-rule="evenodd"/>
<path d="M1425.1,1584.4 L1425.1,1509.8 L1451.4,1509.8 L1451.4,1584.4 Z" fill="#d1d3d4" fill-rule="evenodd"/>
<path d="M1669.4,1593.6 L1669.4,1369.7 L1695.3,1369.7 L1695.3,1593.6 Z" fill="#d1d3d4" fill-rule="evenodd"/>
<path d="M1283.2,1608.5 L1283.2,1665.0 L1309.6,1665.0 L1309.6,1608.5 Z" fill="#d1d3d4" fill-rule="evenodd"/>
<path d="M1506.3,1590.4 L1477.5,1499.1 L1503.9,1497.9 L1532.4,1590.4 Z" fill="#d1d3d4" fill-rule="evenodd"/>
<path d="M924.4,1546.4 L929.2,1537.6 L1022.6,1481.5 L957.7,1336.1 L956.7,1333.8 L985.5,1325.8 L986.5,1328.1 L1058.6,1489.5 L970.5,1542.4 L976.5,1550.4 Z" fill="#d1d3d4" fill-rule="evenodd"/>
<path d="M1585.4,1591.3 L1585.4,1365.7 L1586.4,1365.1 L1587.8,1364.1 L1589.4,1363.1 L1591.2,1361.9 L1593.0,1360.9 L1594.8,1360.0 L1596.7,1359.2 L1598.7,1358.4 L1600.8,1357.7 L1602.9,1357.1 L1605.0,1356.7 L1607.0,1356.5 L1609.1,1356.5 L1611.2,1356.7 L1613.2,1357.0 L1615.3,1357.5 L1617.3,1358.1 L1619.2,1358.7 L1621.2,1359.6 L1623.2,1360.7 L1625.2,1361.9 L1627.0,1363.1 L1628.6,1364.1 L1629.7,1364.8 L1629.9,1366.0 L1630.2,1367.5 L1630.6,1369.3 L1631.0,1371.3 L1631.4,1373.3 L1631.8,1375.3 L1632.1,1377.2 L1632.5,1379.2 L1632.9,1381.2 L1633.3,1383.2 L1633.7,1385.3 L1634.0,1387.5 L1634.4,1389.7 L1634.8,1392.1 L1635.1,1394.5 L1635.5,1396.8 L1635.8,1399.2 L1636.1,1401.4 L1636.4,1403.6 L1636.7,1405.7 L1636.9,1407.7 L1637.1,1409.8 L1637.3,1411.7 L1637.5,1413.6 L1637.7,1415.5 L1637.9,1417.2 L1638.0,1419.0 L1638.2,1420.7 L1638.3,1422.4 L1638.4,1424.1 L1638.5,1425.8 L1638.5,1427.4 L1638.6,1429.1 L1638.6,1430.8 L1638.5,1432.6 L1638.4,1434.5 L1638.3,1436.7 L1638.1,1439.1 L1637.9,1441.6 L1637.6,1444.0 L1637.2,1446.4 L1636.7,1448.5 L1635.9,1450.3 L1635.1,1452.0 L1634.1,1453.5 L1633.0,1455.0 L1631.8,1456.5 L1630.6,1458.0 L1629.1,1459.7 L1627.6,1461.4 L1625.9,1463.1 L1624.2,1464.7 L1622.5,1466.2 L1621.0,1467.6 L1619.5,1468.9 L1617.9,1470.1 L1616.5,1471.3 L1615.1,1472.3 L1614.0,1473.1 L1613.1,1473.7 L1613.1,1585.7 L1662.8,1585.7 L1663.2,1585.1 L1663.9,1584.2 L1664.6,1583.2 L1665.3,1582.1 L1665.9,1580.9 L1666.4,1579.7 L1666.9,1578.4 L1667.3,1577.0 L1667.7,1575.6 L1668.0,1573.9 L1668.4,1571.9 L1668.7,1569.5 L1669.0,1567.0 L1669.2,1564.9 L1669.4,1563.4 L1673.2,1563.4 L1673.2,1591.3 Z" fill="#d1d3d4" fill-rule="evenodd"/>
<path d="M1046.6,1598.5 L1046.6,1600.5 L1046.3,1604.3 L1045.8,1609.2 L1045.3,1615.1 L1044.8,1621.7 L1044.2,1628.8 L1043.6,1636.1 L1043.1,1643.4 L1042.6,1650.5 L1042.2,1657.8 L1041.7,1665.6 L1041.3,1673.7 L1040.9,1681.9 L1040.5,1690.0 L1040.2,1697.6 L1040.0,1704.6 L1039.8,1710.6 L1039.7,1715.7 L1039.6,1720.0 L1039.5,1723.6 L1039.5,1726.9 L1039.6,1729.8 L1039.8,1732.7 L1040.1,1735.6 L1040.6,1738.6 L1041.2,1741.9 L1041.9,1745.0 L1042.7,1748.1 L1043.6,1751.2 L1044.7,1754.1 L1045.9,1757.0 L1047.2,1759.9 L1048.6,1762.7 L1050.2,1765.5 L1052.0,1768.3 L1053.9,1771.1 L1056.0,1773.8 L1058.1,1776.4 L1060.3,1778.8 L1062.5,1780.9 L1064.6,1782.7 L1066.9,1784.2 L1069.4,1785.3 L1072.0,1786.2 L1074.6,1787.0 L1077.1,1787.5 L1079.4,1788.0 L1081.2,1788.3 L1082.6,1788.7 L1208.0,1788.7 L1208.0,2001.0 L1242.8,2001.0 L1242.8,1612.5 Z M1088.6,1604.8 L1209.1,1612.5 L1209.1,1755.5 L1090.6,1750.7 L1090.2,1749.8 L1089.5,1748.9 L1088.7,1747.7 L1087.8,1746.4 L1086.9,1744.9 L1086.0,1743.1 L1085.2,1741.0 L1084.6,1738.6 L1084.2,1735.9 L1083.8,1732.8 L1083.4,1729.3 L1083.1,1725.6 L1082.9,1721.8 L1082.8,1718.0 L1082.7,1714.2 L1082.6,1710.6 L1082.7,1707.4 L1082.8,1704.8 L1083.0,1702.3 L1083.3,1699.7 L1083.6,1696.7 L1083.9,1693.1 L1084.3,1688.5 L1084.6,1682.6 L1085.1,1674.7 L1085.6,1664.8 L1086.2,1653.6 L1086.7,1641.9 L1087.3,1630.5 L1087.8,1619.9 L1088.3,1611.1 Z" fill="#d1d3d4" fill-rule="evenodd"/>
</g>
<path d="M2657.0,708.2 L2635.5,729.8 M2614.3,751.1 L2592.8,772.7 M2571.6,793.9 L2550.1,815.5" fill="none" stroke="#ed1c24" stroke-width="4.5" stroke-linecap="round" stroke-linejoin="round"/>
<path d="M3196.0,1466.4 L3195.3,1467.3 L3194.5,1468.3 L3193.5,1469.4 L3192.6,1470.6 L3191.7,1471.6 L3190.7,1472.6 L3189.8,1473.6 L3188.9,1474.5 L3188.0,1475.4 L3187.0,1476.4 L3186.0,1477.3 L3185.0,1478.2 L3183.9,1479.0 L3182.7,1479.8 L3181.5,1480.6 L3180.2,1481.4 L3178.9,1482.2 L3177.5,1482.9 L3176.1,1483.6 L3174.6,1484.3 L3173.1,1484.9 L3172.5,1485.1" fill="none" stroke="#ed1c24" stroke-width="4.5" stroke-linecap="round" stroke-linejoin="round"/>
<g fill="none" stroke="#231f20" stroke-linecap="butt" stroke-miterlimit="10">
<path d="M2289.9,421.1 L3361.5,1477.5" stroke-width="62.9" stroke-linejoin="miter" transform="translate(-0.15,0.15)"/>
<path d="M2221.7,473.4 L3300.7,1537.9" stroke-width="62.1" stroke-linejoin="miter" transform="translate(-0.55,0.55)"/>
</g>
<g stroke-linecap="butt" stroke-miterlimit="10">
<path d="M2286.4,417.6 L3361.5,1477.5" fill="none" stroke="#b1b3b6" stroke-width="59.5" stroke-linejoin="miter"/>
<path d="M2218.1,469.9 L3300.7,1537.9" fill="none" stroke="#b1b3b6" stroke-width="59.5" stroke-linejoin="miter"/>
</g>
<g transform="translate(813.9,1399.4) rotate(152.22)">
<rect x="0" y="-8.2" width="809.7" height="16.4" fill="none" stroke="#231f20" stroke-width="1.7"/>
<line x1="0" y1="0" x2="809.7" y2="0" stroke="#231f20" stroke-width="12.4" stroke-dasharray="29.5 32.8" stroke-dashoffset="13.5"/>
</g>
<path d="M3402.2,1417.3 L3449.4,1465.1 L3272.7,1640.0 L3226.0,1591.8 Z" fill="#231f20"/>
<rect x="1545.6" y="1652.5" width="77.7" height="66.9" fill="#231f20"/>
<line x1="2100.1" y1="217.3" x2="2163.5" y2="280.1" stroke="#231f20" stroke-width="5.0"/>
<path d="M2189.0,305.4 L2139.5,287.2 L2163.5,280.1 L2170.4,256.0 Z" fill="#231f20"/>
<line x1="2125.0" y1="373.5" x2="2061.6" y2="310.7" stroke="#231f20" stroke-width="5.0"/>
<path d="M2036.0,285.4 L2085.6,303.5 L2061.6,310.7 L2054.7,334.8 Z" fill="#231f20"/>
<line x1="265.1" y1="1315.4" x2="187.1" y2="1273.2" stroke="#231f20" stroke-width="5.0"/>
<path d="M155.4,1256.1 L208.1,1259.6 L187.1,1273.2 L187.2,1298.3 Z" fill="#231f20"/>
<path d="M2303.5,434.4 L2309.9,440.8 M2330.9,461.5 L2352.6,482.9 M2373.3,503.2 L2395.0,524.7 M2415.6,545.0 L2437.4,566.4 M2458.0,586.8 L2479.7,608.2 M2500.9,629.0 L2522.6,650.5 M2543.8,671.3 L2565.5,692.7 M2586.7,713.6 L2608.4,735.0 M2629.5,755.9 L2651.3,777.3 M2672.4,798.1 L2694.1,819.5 M2715.3,840.4 L2737.0,861.8 M2758.2,882.7 L2779.9,904.1 M2801.8,925.7 L2823.5,947.1 M2845.4,968.6 L2867.1,990.0 M2889.0,1011.6 L2910.7,1033.0 M2932.6,1054.6 L2954.3,1076.0 M2976.2,1097.5 L2997.9,1119.0 M3019.7,1140.5 L3024.8,1145.5 L3026.9,1147.6 L3029.7,1150.4 L3033.1,1153.9 L3036.8,1157.6 L3040.7,1161.4 L3041.3,1162.0 M3064.4,1182.2 L3065.0,1182.5 L3066.9,1183.2 L3068.8,1183.5 L3070.8,1183.6 L3072.8,1183.5 L3074.7,1183.0 L3076.6,1182.4 L3078.4,1181.6 L3080.1,1180.7 L3081.7,1179.6 L3083.1,1178.3 L3084.4,1177.0 L3085.5,1175.4 L3086.6,1173.7 L3087.6,1171.8 L3088.5,1169.8 M3097.1,1140.4 L3097.2,1140.1 L3097.7,1136.7 L3098.1,1133.5 L3098.5,1130.5 L3098.7,1127.5 L3098.8,1124.6 L3098.7,1121.7 L3098.6,1118.7 L3098.2,1115.7 L3097.7,1112.7 L3097.2,1110.1 M3085.3,1081.9 L3084.4,1080.4 L3082.3,1077.4 L3080.1,1074.4 L3077.7,1071.3 L3075.2,1068.2 L3072.5,1065.1 L3069.7,1061.8 L3066.4,1058.3 L3066.3,1058.1 M3045.0,1037.7 L3043.1,1036.0 L3040.8,1033.8 L3023.0,1016.5 M3001.7,996.0 L2979.7,974.8 M2958.5,954.3 L2936.5,933.1 M2915.2,912.6 L2893.3,891.4 M2872.0,870.9 L2850.1,849.7 M2829.2,829.6 L2807.3,808.4 M2786.4,788.3 L2764.5,767.2 M2743.6,747.0 L2721.7,725.9 M2700.1,705.0 L2679.7,685.4 L2678.2,686.9 M2528.9,836.8 L2507.4,858.4 M2463.3,877.7 L2441.5,899.1 M2420.4,919.8 L2398.6,941.2 M2377.4,962.0 L2355.7,983.3 M2334.5,1004.1 L2312.7,1025.5 M2291.6,1046.3 L2269.8,1067.6 M2248.7,1088.4 L2226.9,1109.8 M2205.7,1130.5 L2184.0,1151.9 M2162.8,1172.7 L2141.0,1194.0 M2119.9,1214.8 L2098.1,1236.2 M2076.9,1257.0 L2055.2,1278.3 M2034.5,1298.6 L2012.7,1320.0 M1991.5,1340.9 L1969.7,1362.2 M1948.4,1383.1 L1926.7,1404.5 M1905.4,1425.3 L1883.6,1446.7 M1862.4,1467.6 L1840.6,1488.9 M1819.4,1509.8 L1797.6,1531.2 M1776.4,1552.0 L1754.6,1573.4 M1733.5,1594.0 L1720.8,1605.1 L1707.1,1605.3 M1677.6,1604.3 L1647.2,1603.3 M1617.6,1602.4 L1587.2,1601.4 M1557.7,1600.4 L1527.2,1599.4 M1497.7,1598.5 L1467.2,1597.5 M1437.7,1596.5 L1407.2,1595.5 M1377.7,1594.6 L1350.1,1593.7 L1347.2,1593.4 M1317.8,1591.2 L1287.4,1588.9 M1258.0,1586.7 L1227.5,1584.5 M1198.1,1582.2 L1167.7,1580.0 M1138.3,1577.7 L1120.7,1576.4 L1107.8,1575.4 M1078.4,1573.0 L1048.0,1570.6 M1018.1,1568.2 L987.7,1565.8 M957.9,1562.3 L927.8,1557.2 M898.2,1552.2 L868.1,1547.1 M838.6,1542.0 L808.8,1535.3 M779.5,1528.7 L749.7,1522.0 M720.4,1515.5 L694.1,1509.5 L690.8,1510.7 M664.2,1524.6 L637.6,1539.4 M611.8,1553.8 L585.2,1568.7 M559.4,1583.0 L532.8,1597.9 M507.0,1612.3 L480.4,1627.2 M454.6,1641.5 L428.0,1656.4 M402.3,1670.8 L375.6,1685.6 M349.9,1700.0 L323.2,1714.9 M297.5,1729.2 L270.8,1744.1 M245.1,1758.5 L218.4,1773.4 M192.7,1787.7 L166.0,1802.6 M140.3,1817.0 L116.2,1830.4" fill="none" stroke="#ed1c24" stroke-width="4.5" stroke-linecap="round" stroke-linejoin="round"/>
<path d="M2486.5,614.9 L2464.9,606.9 L2474.7,603.3 L2478.2,593.4 Z" fill="#ed1c24"/>
<path d="M2786.7,910.8 L2765.0,902.8 L2774.9,899.2 L2778.4,889.3 Z" fill="#ed1c24"/>
<path d="M3059.5,1051.4 L3080.9,1060.1 L3070.9,1063.4 L3067.1,1073.2 Z" fill="#ed1c24"/>
<path d="M2843.2,843.1 L2864.9,850.9 L2855.1,854.6 L2851.7,864.5 Z" fill="#ed1c24"/>
<path d="M2714.8,719.3 L2736.5,727.0 L2726.7,730.7 L2723.3,740.7 Z" fill="#ed1c24"/>
<path d="M2434.8,905.7 L2443.1,884.2 L2446.5,894.2 L2456.4,897.8 Z" fill="#ed1c24"/>
<path d="M2048.4,1285.0 L2056.7,1263.5 L2060.2,1273.4 L2070.0,1277.0 Z" fill="#ed1c24"/>
<path d="M1747.8,1580.0 L1756.1,1558.5 L1759.6,1568.5 L1769.4,1572.1 Z" fill="#ed1c24"/>
<path d="M1038.5,1569.9 L1060.2,1562.1 L1055.0,1571.2 L1058.7,1581.0 Z" fill="#ed1c24"/>
<path d="M629.3,1544.1 L643.0,1525.5 L643.7,1536.0 L652.3,1542.1 Z" fill="#ed1c24"/>
<path d="M3280.4,1514.8 L3257.8,1494.3 M3235.9,1474.6 L3213.5,1454.3" fill="none" stroke="#ed1c24" stroke-width="4.5" stroke-linecap="round" stroke-linejoin="round"/>
<path d="M3143.4,1487.0 L3141.6,1486.6 L3139.8,1486.0 L3137.8,1485.4 L3135.9,1484.7 L3133.9,1483.9 L3132.0,1483.1 L3130.1,1482.3 L3128.3,1481.4 L3126.5,1480.6 L3124.9,1479.9 L3123.4,1479.1 L3121.9,1478.2 L3120.3,1477.3 L3118.6,1476.2 L3116.7,1475.0 L3115.9,1474.3 M3093.0,1455.0 L3090.0,1452.3 L3086.6,1449.3 L3083.1,1446.2 L3079.7,1443.0 L3076.3,1440.1 L3073.4,1437.3 L3070.9,1435.1 L3070.3,1434.6 M3051.1,1416.0 L3029.3,1394.8 M3007.5,1373.6 L2985.6,1352.3 M2963.9,1331.2 L2942.0,1309.9 M2920.3,1288.8 L2898.4,1267.5 M2876.7,1246.4 L2854.8,1225.1 M2833.0,1203.9 L2811.2,1182.7 M2790.0,1162.1 L2768.2,1140.8 M2747.0,1120.3 L2725.2,1099.0 M2704.0,1078.4 L2682.1,1057.2 M2661.0,1036.6 L2639.1,1015.4 M2618.0,994.8 L2596.1,973.5 M2574.7,952.7 L2552.8,931.4 M2531.4,910.6 L2509.5,889.3" fill="none" stroke="#ed1c24" stroke-width="4.5" stroke-linecap="round" stroke-linejoin="round"/>
<path d="M3022.5,1388.1 L3044.1,1396.0 L3034.3,1399.6 L3030.9,1409.6 Z" fill="#ed1c24"/>
<path d="M2804.4,1176.0 L2826.1,1183.9 L2816.2,1187.6 L2812.8,1197.5 Z" fill="#ed1c24"/>
<path d="M2589.3,966.9 L2611.0,974.7 L2601.1,978.4 L2597.7,988.3 Z" fill="#ed1c24"/>
<text transform="translate(2199.1,328.2) rotate(44.60)" font-size="26.0" font-weight="bold" fill="#231f20" text-anchor="start" textLength="119.0" lengthAdjust="spacingAndGlyphs" stroke="#231f20" stroke-width="1.7" stroke-linejoin="round">Dari Medan</text>
<text transform="translate(2135.4,397.9) rotate(44.60)" font-size="26.0" font-weight="bold" fill="#231f20" text-anchor="start" textLength="103.0" lengthAdjust="spacingAndGlyphs" stroke="#231f20" stroke-width="1.7" stroke-linejoin="round">Ke Medan</text>
<text transform="translate(3276.7,1581.0) rotate(-44.60)" font-size="22.5" font-weight="normal" fill="#fff" text-anchor="start" textLength="160.0" lengthAdjust="spacingAndGlyphs" stroke="#fff" stroke-width="0.3" stroke-linejoin="round">Gerbang Parkir</text>
<text transform="translate(3336.8,1569.1) rotate(-44.60)" font-size="22.5" font-weight="normal" fill="#fff" text-anchor="start" textLength="54.0" lengthAdjust="spacingAndGlyphs" stroke="#fff" stroke-width="0.3" stroke-linejoin="round">KNIA</text>
<text transform="translate(1584.4,1679.8) rotate(0.00)" font-size="14.0" font-weight="normal" fill="#fff" text-anchor="middle" stroke="#fff" stroke-width="0.4" stroke-linejoin="round">POS</text>
<text transform="translate(1584.4,1699.4) rotate(0.00)" font-size="14.0" font-weight="normal" fill="#fff" text-anchor="middle" textLength="68.0" lengthAdjust="spacingAndGlyphs" stroke="#fff" stroke-width="0.4" stroke-linejoin="round">SECURITY</text>
<text transform="translate(154.2,1222.1) rotate(27.50)" font-size="17.5" font-weight="bold" fill="#231f20" text-anchor="start" textLength="163.0" lengthAdjust="spacingAndGlyphs">Kota Lubuk Pakam</text>
<text transform="translate(351.0,1345.6) rotate(27.50)" font-size="33.0" font-weight="bold" fill="#231f20" text-anchor="start" textLength="261.0" lengthAdjust="spacingAndGlyphs" stroke="#fff" stroke-width="4.5" stroke-linejoin="round" paint-order="stroke">Jln. Bakaran Batu</text>
<text transform="translate(254.4,1771.3) rotate(-28.30)" font-size="34.0" font-weight="bold" fill="#231f20" text-anchor="start" textLength="392.0" lengthAdjust="spacingAndGlyphs" stroke="#fff" stroke-width="4.5" stroke-linejoin="round" paint-order="stroke">Jln. Pasar V Kebun Kelapa</text>
<text transform="translate(725.5,1897.0) rotate(-90.00)" font-size="31.0" font-weight="bold" fill="#231f20" text-anchor="start" textLength="332.0" lengthAdjust="spacingAndGlyphs" stroke="#fff" stroke-width="4.0" stroke-linejoin="round" paint-order="stroke">Jln. Tengu Heran (Rahayu)</text>
<text transform="translate(1089.4,1588.0) rotate(3.60)" font-size="30.0" font-weight="bold" fill="#231f20" text-anchor="start" textLength="260.0" lengthAdjust="spacingAndGlyphs" stroke="#fff" stroke-width="4.5" stroke-linejoin="round" paint-order="stroke">Jln. Bakaran Batu</text>
<text transform="translate(2150.7,1198.5) rotate(-43.90)" font-size="33.0" font-weight="bold" fill="#231f20" text-anchor="start" textLength="178.0" lengthAdjust="spacingAndGlyphs" stroke="#fff" stroke-width="4.5" stroke-linejoin="round" paint-order="stroke">Jln. Pasar VI</text>
<g transform="translate(454.9,1773.3)" fill="none" stroke="#231f20" stroke-linecap="butt" stroke-linejoin="round">
<circle r="64.1" stroke-width="3.0"/>
<circle r="57.5" stroke-width="2.5"/>
<circle r="53.5" stroke-width="2.5"/>
<path d="M-41.6,-31.6 C-41,-27 -40,-19.5 -33,-19.5 L33,-19.5 C40,-19.5 41,-27 41.6,-31.6" stroke-width="4.9"/>
<path d="M-41.6,31.6 C-41,27 -40,19.5 -33,19.5 L33,19.5 C40,19.5 41,27 41.6,31.6" stroke-width="4.9"/>
<rect x="-19.3" y="-17.2" width="38.6" height="34.4" rx="7" ry="7" stroke-width="4.9"/>
<path d="M-41.6,-31.6 C-41,-27 -40,-19.5 -33,-19.5 L33,-19.5 C40,-19.5 41,-27 41.6,-31.6" stroke="#fff" stroke-width="1.4"/>
<path d="M-41.6,31.6 C-41,27 -40,19.5 -33,19.5 L33,19.5 C40,19.5 41,27 41.6,31.6" stroke="#fff" stroke-width="1.4"/>
<rect x="-19.3" y="-17.2" width="38.6" height="34.4" rx="7" ry="7" stroke="#fff" stroke-width="1.4"/>
</g>
<text x="393" y="1859.6" textLength="125" lengthAdjust="spacing" font-weight="normal" fill="#231f20"><tspan font-size="19.3">T</tspan><tspan font-size="14.2">HONG’S </tspan><tspan font-size="19.3">I</tspan><tspan font-size="14.2">NN</tspan></text>
<text x="391.2" y="1875.2" textLength="128.5" lengthAdjust="spacingAndGlyphs" class="serif" font-size="10" fill="#231f20">A Member of Thong’s Group</text>
</svg>
</body></html>
